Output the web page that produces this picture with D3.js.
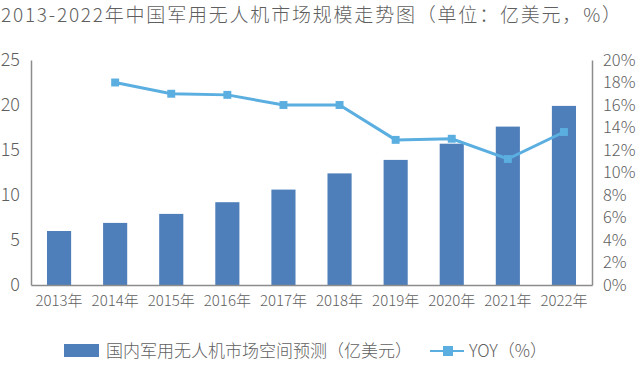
<!DOCTYPE html>
<html><head><meta charset="utf-8">
<script src="https://cdn.jsdelivr.net/npm/d3@7/dist/d3.min.js"></script>
<style>
html,body{margin:0;padding:0;background:#fff;}
svg{display:block;}
text{font-family:"Noto Sans CJK SC","Noto Sans",sans-serif;font-weight:300;fill:#5f5f5f;}
</style></head>
<body>
<svg id="chart" width="640" height="366"></svg>
<script>
const title = "2013-2022年中国军用无人机市场规模走势图（单位：亿美元，%）";
const years = ["2013年","2014年","2015年","2016年","2017年","2018年","2019年","2020年","2021年","2022年"];
const market = [6.0, 6.9, 7.9, 9.2, 10.6, 12.4, 13.9, 15.7, 17.6, 19.9];
const yoy = [null, 18.0, 17.0, 16.9, 16.0, 16.0, 12.9, 13.0, 11.2, 13.6];
const leftTicks = [0, 5, 10, 15, 20, 25];
const rightTicks = [0, 2, 4, 6, 8, 10, 12, 14, 16, 18, 20];
const barName = "国内军用无人机市场空间预测（亿美元）";
const lineName = "YOY（%）";

const barColor = "#4f7fba", lineColor = "#5aaee0", axisColor = "#8c8c8c";
const svg = d3.select("#chart");
const L = 31, R = 592, T = 60, B = 285;

const x = d3.scaleBand().domain(years).range([L, R]).paddingInner(0.57).paddingOuter(0.285);
const yL = d3.scaleLinear().domain([0, 25]).range([B, T]);
const yR = d3.scaleLinear().domain([0, 20]).range([B, T]);

svg.append("text").attr("x", 1).attr("y", 22).style("font-size", "19px")
  .attr("textLength", 620).attr("lengthAdjust", "spacing").text(title);

// bars
svg.append("g").selectAll("rect").data(market).join("rect")
  .attr("x", (d, i) => x(years[i])).attr("width", x.bandwidth())
  .attr("y", d => yL(d)).attr("height", d => B - yL(d)).attr("fill", barColor);

// axes
const gl = svg.append("g").attr("transform", `translate(${L},0)`)
  .call(d3.axisLeft(yL).tickValues(leftTicks).tickSize(0).tickPadding(11));
const gr = svg.append("g").attr("transform", `translate(${R},0)`)
  .call(d3.axisRight(yR).tickValues(rightTicks).tickSize(0).tickPadding(11).tickFormat(d => d + "%"));
const gb = svg.append("g").attr("transform", `translate(0,${B})`)
  .call(d3.axisBottom(x).tickSize(0).tickPadding(10));
[gl, gr, gb].forEach(g => {
  g.select(".domain").attr("stroke", axisColor).attr("stroke-width", 1.5);
  g.selectAll("text").attr("fill", "#5f5f5f").style("font-family", null);
});
gl.selectAll("text").style("font-size", "18px");
gr.selectAll("text").style("font-size", "16.5px");
gb.selectAll("text").style("font-size", "15px");

// line
const pts = yoy.map((v, i) => ({ v, c: years[i] })).filter(d => d.v != null);
const cx = c => x(c) + x.bandwidth() / 2;
svg.append("path").datum(pts)
  .attr("d", d3.line().x(d => cx(d.c)).y(d => yR(d.v)))
  .attr("fill", "none").attr("stroke", lineColor).attr("stroke-width", 3);
svg.append("g").selectAll("path").data(pts).join("path")
  .attr("d", d3.symbol(d3.symbolDiamond2, 80))
  .attr("transform", d => `translate(${cx(d.c)},${yR(d.v)}) rotate(45)`)
  .attr("fill", lineColor);

// legend
const lg = svg.append("g");
lg.append("rect").attr("x", 64).attr("y", 344).attr("width", 35).attr("height", 13).attr("fill", barColor);
lg.append("text").attr("x", 106).attr("y", 357).style("font-size", "17px").text(barName);
lg.append("line").attr("x1", 430).attr("x2", 464).attr("y1", 351).attr("y2", 351)
  .attr("stroke", lineColor).attr("stroke-width", 2);
lg.append("rect").attr("x", 443).attr("y", 346).attr("width", 10).attr("height", 10).attr("fill", lineColor);
lg.append("text").attr("x", 469).attr("y", 357).style("font-size", "17px").text(lineName);
</script>
</body></html>
